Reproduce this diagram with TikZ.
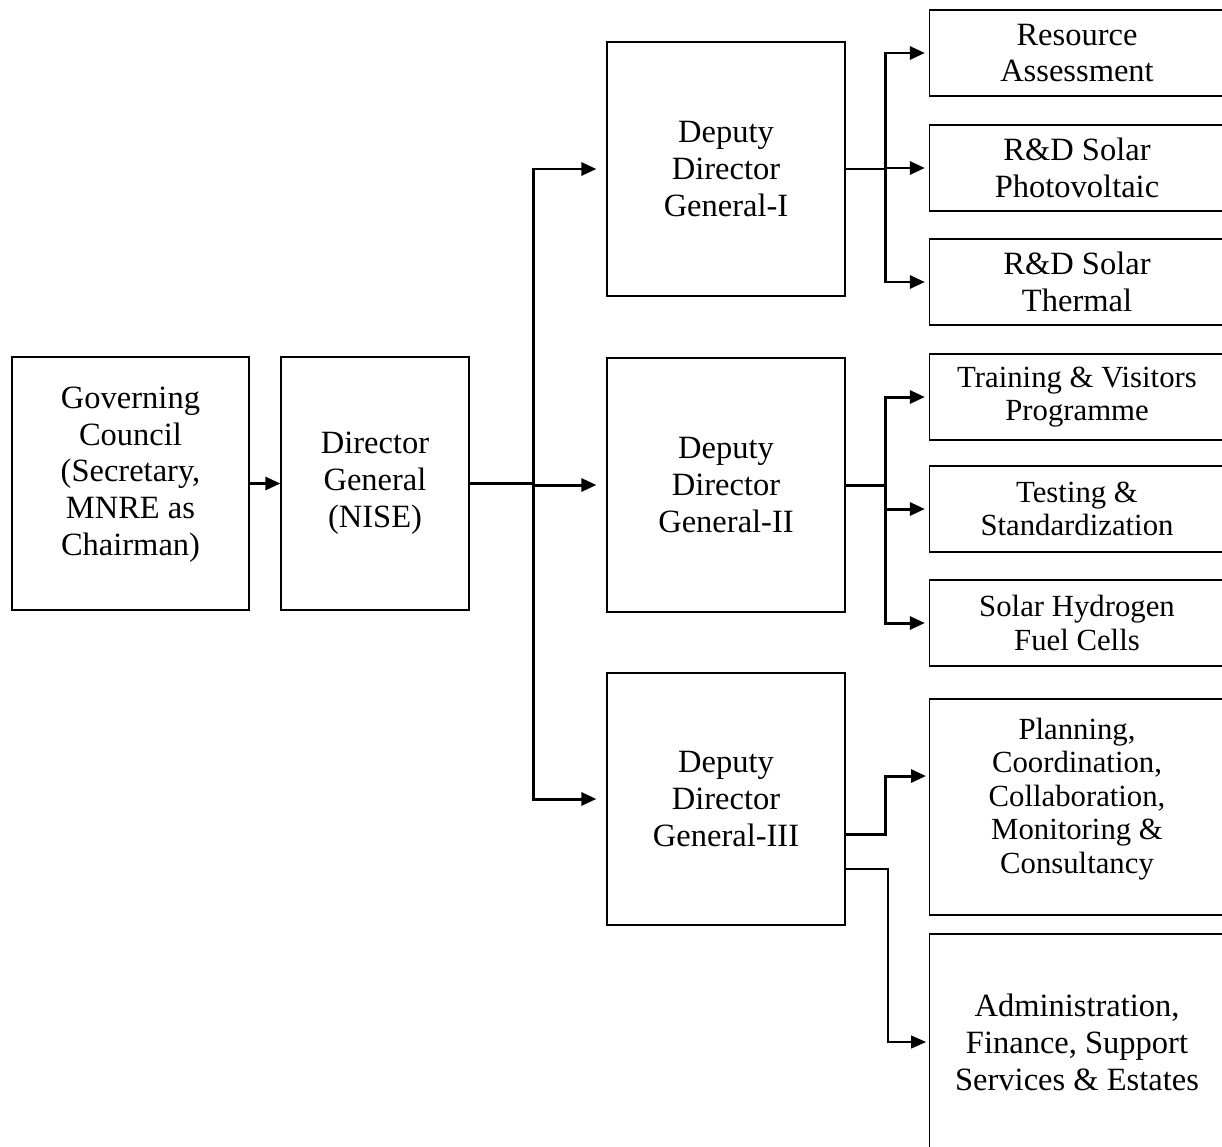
\documentclass[tikz,border=0pt]{standalone}
\usepackage{fontspec}
\setmainfont{Liberation Serif}
\usetikzlibrary{arrows.meta}

\begin{document}
\begin{tikzpicture}[x=0.02cm, y=-0.02cm,
  box/.style={draw, line width=0.75pt, align=center, inner sep=0pt,
    font=\fontsize{18.5}{21}\selectfont},
  smalltext/.style={font=\fontsize{17.5}{19}\selectfont},
  bar/.style={line width=1.7pt},
  link/.style={bar, -{Triangle[length=0.3cm, width=0.26cm]}},
  thinlink/.style={line width=0.75pt, -{Triangle[length=0.3cm, width=0.26cm]}}]
  \useasboundingbox (0,0) rectangle (1222,1146);

  % left column
  \node[box, minimum width=4.74cm, minimum height=5.06cm] (gc) at (130.5,483.5)
    {Governing\\Council\\(Secretary,\\MNRE as\\Chairman)\\[-7pt]\mbox{}};
  \node[box, minimum width=3.76cm, minimum height=5.06cm] (dg) at (375,483.5)
    {Director\\General\\(NISE)};

  % deputies
  \node[box, minimum width=4.76cm, minimum height=5.08cm] (ddg1) at (726,169)
    {Deputy\\Director\\General-I};
  \node[box, minimum width=4.76cm, minimum height=5.08cm] (ddg2) at (726,485)
    {Deputy\\Director\\General-II};
  \node[box, minimum width=4.76cm, minimum height=5.04cm] (ddg3) at (726,799)
    {Deputy\\Director\\General-III};

  % divisions
  \node[box, minimum width=5.9cm, minimum height=1.72cm] (ra) at (1077,53)
    {Resource\\Assessment};
  \node[box, minimum width=5.9cm, minimum height=1.72cm] (pv) at (1077,168)
    {R\&D Solar\\Photovoltaic};
  \node[box, minimum width=5.9cm, minimum height=1.72cm] (th) at (1077,282)
    {R\&D Solar\\Thermal};
  \node[box, smalltext, minimum width=5.9cm, minimum height=1.72cm] (tv) at (1077,397)
    {Training \& Visitors\\Programme};
  \node[box, smalltext, minimum width=5.9cm, minimum height=1.72cm] (ts) at (1077,509)
    {Testing \&\\Standardization};
  \node[box, smalltext, minimum width=5.9cm, minimum height=1.72cm] (sh) at (1077,623)
    {Solar Hydrogen\\Fuel Cells};
  \node[box, smalltext, minimum width=5.9cm, minimum height=4.32cm] (pc) at (1077,807)
    {Planning,\\Coordination,\\Collaboration,\\Monitoring \&\\Consultancy\\[-6pt]\mbox{}};
  \node[box, minimum width=5.9cm, minimum height=4.32cm] (ad) at (1077,1042)
    {Administration,\\Finance, Support\\Services \& Estates};

  % junctions
  \coordinate (split) at (533,483.5);
  \coordinate (b1) at (885,169);
  \coordinate (b2) at (885,485);
  \coordinate (b3) at (885,834);
  \coordinate (b4) at (888,869);
  \coordinate (pcin) at (930,776);
  \coordinate (adin) at (930,1042);

  % connectors
  \draw[link] (gc) -- (dg);
  \draw[bar] (dg.east) -- (split);
  \draw[link, shorten >=0.2cm] (split) |- (ddg1.west);
  \draw[link, shorten >=0.2cm] (split) |- (ddg2.west);
  \draw[link, shorten >=0.2cm] (split) |- (ddg3.west);

  \draw[bar] (ddg1.east) -- (b1);
  \draw[link, shorten >=0.08cm] (b1) |- (ra.west);
  \draw[link, shorten >=0.08cm] (b1) |- (pv.west);
  \draw[link, shorten >=0.08cm] (b1) |- (th.west);

  \draw[bar] (ddg2.east) -- (b2);
  \draw[link, shorten >=0.08cm] (b2) |- (tv.west);
  \draw[link, shorten >=0.08cm] (b2) |- (ts.west);
  \draw[link, shorten >=0.08cm] (b2) |- (sh.west);

  \draw[link, shorten >=0.08cm] (ddg3.east |- b3) -- (b3) |- (pcin);
  \draw[thinlink, shorten >=0.08cm] (ddg3.east |- b4) -- (b4) |- (adin);
\end{tikzpicture}
\end{document}
